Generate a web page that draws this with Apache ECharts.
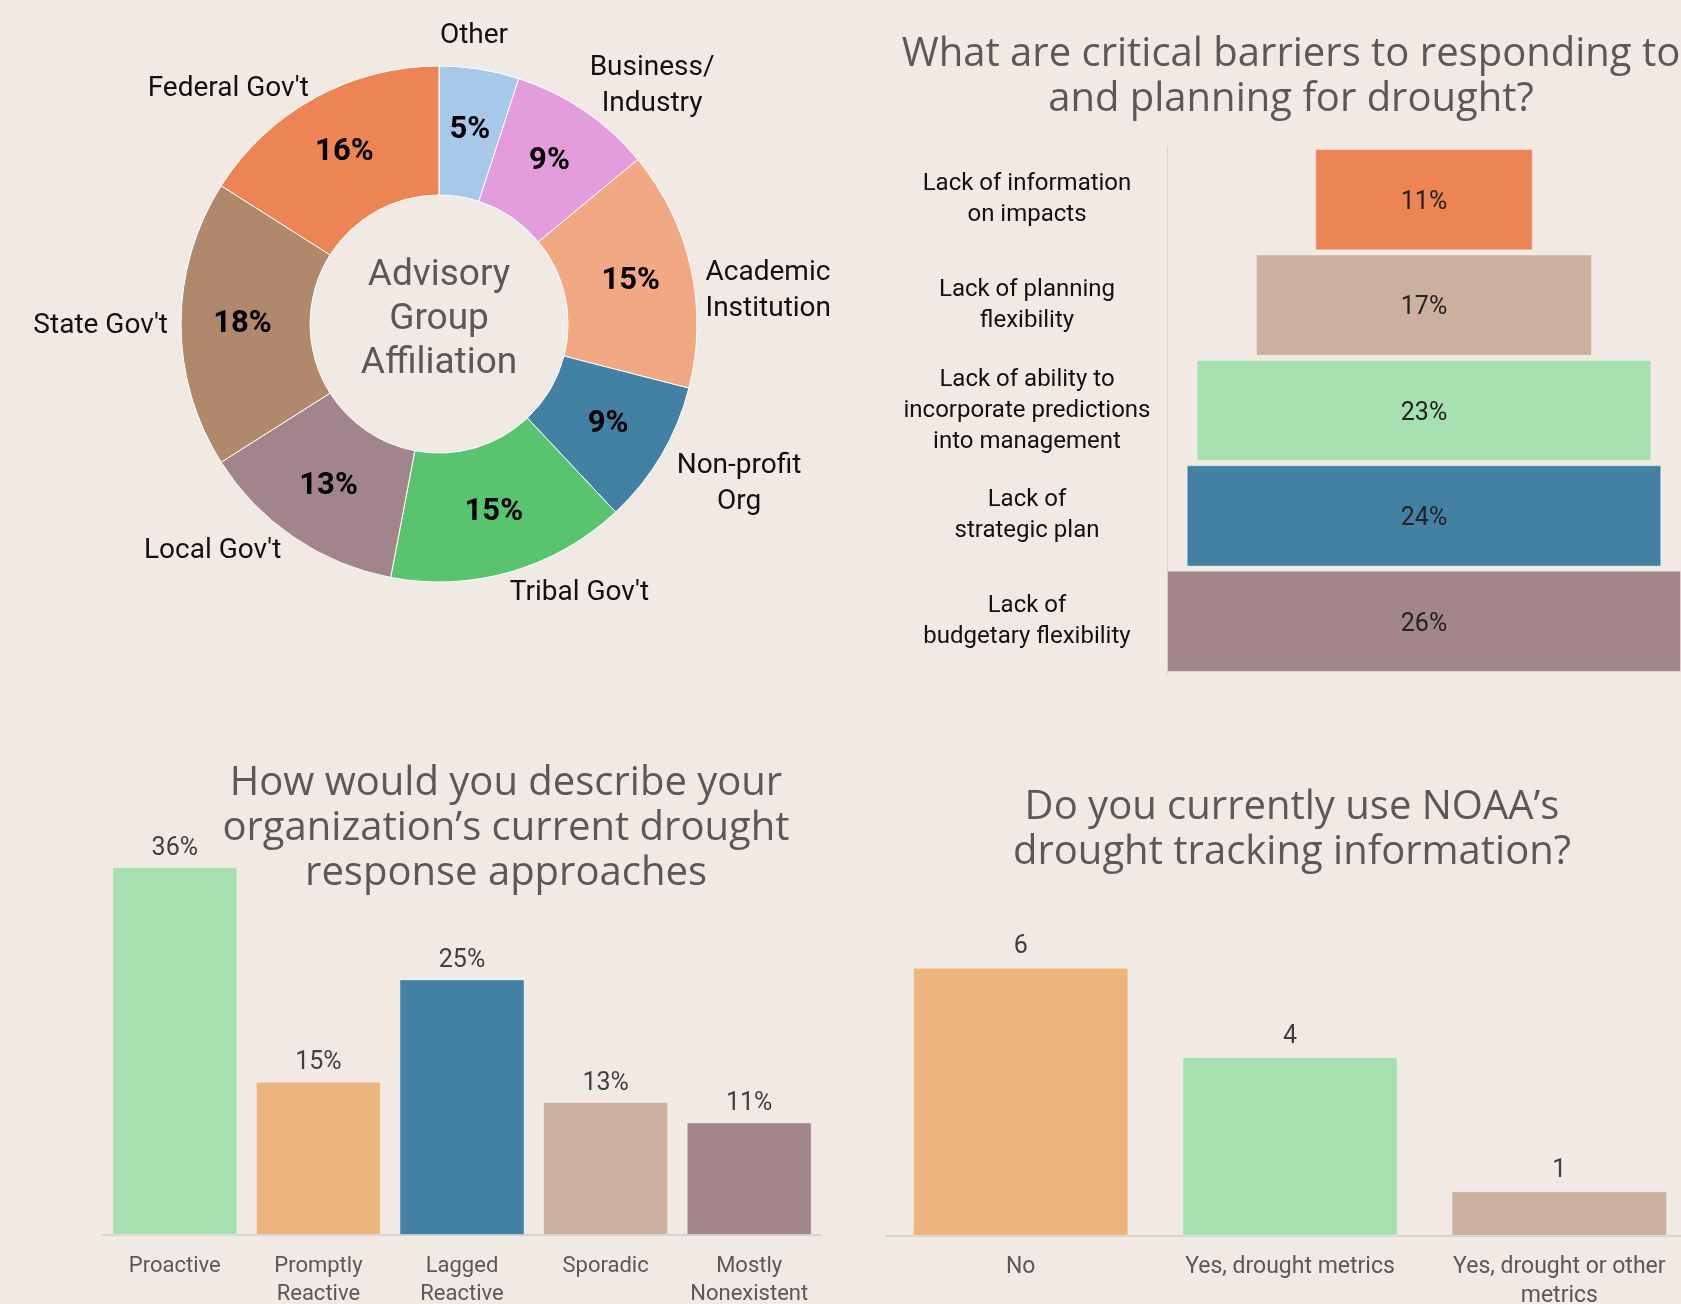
<!DOCTYPE html>
<html>
<head>
<meta charset="utf-8">
<script src="https://cdn.jsdelivr.net/npm/echarts@6/dist/echarts.min.js"></script>
<style>
html,body{margin:0;padding:0;background:#F0E9E4;}
#chart{width:1681px;height:1304px;}
</style>
</head>
<body>
<div id="chart"></div>
<script>
// ---- Data ----
const affiliationNames = ["Other", "Business/\nIndustry", "Academic\nInstitution", "Non-profit\nOrg", "Tribal Gov't", "Local Gov't", "State Gov't", "Federal Gov't"];
const affiliationValues = [5, 9, 15, 9, 15, 13, 18, 16];
const affiliationColors = ["#A6C9EA", "#E39DDC", "#F2A883", "#4280A4", "#58C470", "#A2858C", "#B0896C", "#EC8553"];

const barrierNames = ["Lack of information\non impacts", "Lack of planning\nflexibility", "Lack of ability to\nincorporate predictions\ninto management", "Lack of\nstrategic plan", "Lack of\nbudgetary flexibility"];
const barrierValues = [11, 17, 23, 24, 26];
const barrierColors = ["#EC8553", "#CBB09F", "#A6DFB0", "#4280A4", "#A2868C"];

const approachNames = ["Proactive", "Promptly\nReactive", "Lagged\nReactive", "Sporadic", "Mostly\nNonexistent"];
const approachValues = [36, 15, 25, 13, 11];
const approachColors = ["#A6DFB0", "#EEB47E", "#4280A4", "#CBB09F", "#A2868C"];

const noaaNames = ["No", "Yes, drought metrics", "Yes, drought or other\nmetrics"];
const noaaValues = [6, 4, 1];
const noaaColors = ["#EEB47E", "#A6DFB0", "#CBB09F"];

const titleBarriers = "What are critical barriers to responding to\nand planning for drought?";
const titleApproach = "How would you describe your\norganization\u2019s current drought\nresponse approaches";
const titleNoaa = "Do you currently use NOAA\u2019s\ndrought tracking information?";
const centerText = "Advisory\nGroup\nAffiliation";

// ---- Styles ----
const NARROW = "'Liberation Sans Narrow', 'Roboto', 'Liberation Sans', sans-serif";
const TITLEF = "'Open Sans', 'Lato', sans-serif";
const titleColor = "#595959";

// small label nudges for the outer donut labels (by slice index)
const pieLabelNudge = [
  {dx:-46, dy:-23}, {dx:-5, dy:-16, center:true}, {dx:0, dy:25}, {dx:2, dy:24, center:true},
  {dx:-9, dy:12}, {dx:-2, dy:5}, {dx:2, dy:2}, {dx:4, dy:0}
];

const barrierMax = Math.max(...barrierValues);
const barrierOffsets = barrierValues.map(v => (barrierMax - v) / 2);

const chart = echarts.init(document.getElementById('chart'));
const option = {
  backgroundColor: '#F0E9E4',
  animation: false,
  graphic: [
    {type:'text', x:439, y:320, style:{text:centerText, fontFamily:NARROW, fontSize:37, lineHeight:44, fill:titleColor, align:'center', verticalAlign:'middle'}},
    {type:'text', x:1291, y:77, style:{text:titleBarriers, fontFamily:TITLEF, fontSize:40, lineHeight:45, fill:titleColor, align:'center', verticalAlign:'middle'}},
    {type:'text', x:506, y:829, z:10, style:{text:titleApproach, fontFamily:TITLEF, fontSize:40, lineHeight:45, fill:titleColor, align:'center', verticalAlign:'middle'}},
    {type:'text', x:1292, y:830, style:{text:titleNoaa, fontFamily:TITLEF, fontSize:40, lineHeight:45, fill:titleColor, align:'center', verticalAlign:'middle'}}
  ],
  grid: [
    {left:1167, top:147, width:514, height:527, outerBoundsMode:'none', containLabel:false},
    {left:103, top:826, width:718, height:409, outerBoundsMode:'none', containLabel:false},
    {left:886, top:923, width:808, height:313, outerBoundsMode:'none', containLabel:false}
  ],
  xAxis: [
    {gridIndex:0, type:'value', min:0, max:barrierMax, show:false},
    {gridIndex:1, type:'category', data:approachNames,
      axisLine:{lineStyle:{color:'#C9D0C9', width:1.5}}, axisTick:{show:false},
      axisLabel:{fontFamily:NARROW, fontSize:22, lineHeight:28, color:'#595959', margin:17, interval:0}},
    {gridIndex:2, type:'category', data:noaaNames,
      axisLine:{lineStyle:{color:'#C9D0C9', width:1.5}}, axisTick:{show:false},
      axisLabel:{fontFamily:NARROW, fontSize:23, lineHeight:29, color:'#595959', margin:17, interval:0}}
  ],
  yAxis: [
    {gridIndex:0, type:'category', data:barrierNames, inverse:true,
      axisLine:{show:true, lineStyle:{color:'#D6D6D6', width:1}}, axisTick:{show:false},
      axisLabel:{fontFamily:NARROW, fontSize:24, lineHeight:31, color:'#111', align:'center', margin:140}},
    {gridIndex:1, type:'value', min:0, max:40, show:false},
    {gridIndex:2, type:'value', min:0, max:7, show:false}
  ],
  series: [
    {
      type:'pie', center:[439,324], radius:[129,258], startAngle:90, clockwise:true,
      avoidLabelOverlap:false,
      data: affiliationValues.map((v,i)=>({name:affiliationNames[i], value:v, itemStyle:{color:affiliationColors[i]}})),
      itemStyle:{borderColor:'#FFFFFF', borderWidth:1},
      label:{show:true, position:'inside', formatter:'{c}%', fontFamily:NARROW, fontSize:31, fontWeight:'bold', color:'#000'},
      labelLine:{show:false}, emphasis:{disabled:true}
    },
    {
      type:'pie', center:[439,324], radius:[129,258], startAngle:90, clockwise:true,
      avoidLabelOverlap:false, silent:true, z:1,
      data: affiliationValues.map((v,i)=>({name:affiliationNames[i], value:v})),
      itemStyle:{color:'rgba(0,0,0,0)', borderWidth:0},
      label:{show:true, position:'outside', formatter:'{b}', fontFamily:NARROW, fontSize:28, lineHeight:36, color:'#111'},
      labelLine:{show:false, length:10, length2:0}, emphasis:{disabled:true},
      labelLayout: function (p) {
        const o = pieLabelNudge[p.dataIndex];
        if (o.center) return {align:'center', dx: p.labelRect.width / 2 + o.dx, dy: o.dy};
        return {dx:o.dx, dy:o.dy};
      }
    },
    {
      type:'bar', xAxisIndex:0, yAxisIndex:0, stack:'funnel', data:barrierOffsets,
      itemStyle:{color:'rgba(0,0,0,0)'}, barCategoryGap:'4%', silent:true
    },
    {
      type:'bar', xAxisIndex:0, yAxisIndex:0, stack:'funnel',
      data: barrierValues.map((v,i)=>({value:v, itemStyle:{color:barrierColors[i]}})),
      barCategoryGap:'4%',
      itemStyle:{borderColor:'rgba(255,255,255,0.35)', borderWidth:1},
      label:{show:true, position:'inside', offset:[0,3], formatter:'{c}%', fontFamily:NARROW, fontSize:25, color:'#222'}
    },
    {
      type:'bar', xAxisIndex:1, yAxisIndex:1,
      data: approachValues.map((v,i)=>({value:v, itemStyle:{color:approachColors[i]}})),
      barCategoryGap:'13%',
      itemStyle:{borderColor:'rgba(255,255,255,0.35)', borderWidth:1},
      label:{show:true, position:'top', distance:6, formatter:'{c}%', fontFamily:NARROW, fontSize:25, color:'#404040'}
    },
    {
      type:'bar', xAxisIndex:2, yAxisIndex:2,
      data: noaaValues.map((v,i)=>({value:v, itemStyle:{color:noaaColors[i]}})),
      barCategoryGap:'20%',
      itemStyle:{borderColor:'rgba(255,255,255,0.35)', borderWidth:1},
      label:{show:true, position:'top', distance:8, formatter:'{c}', fontFamily:NARROW, fontSize:25, color:'#404040'}
    }
  ]
};
chart.setOption(option);
</script>
</body>
</html>
